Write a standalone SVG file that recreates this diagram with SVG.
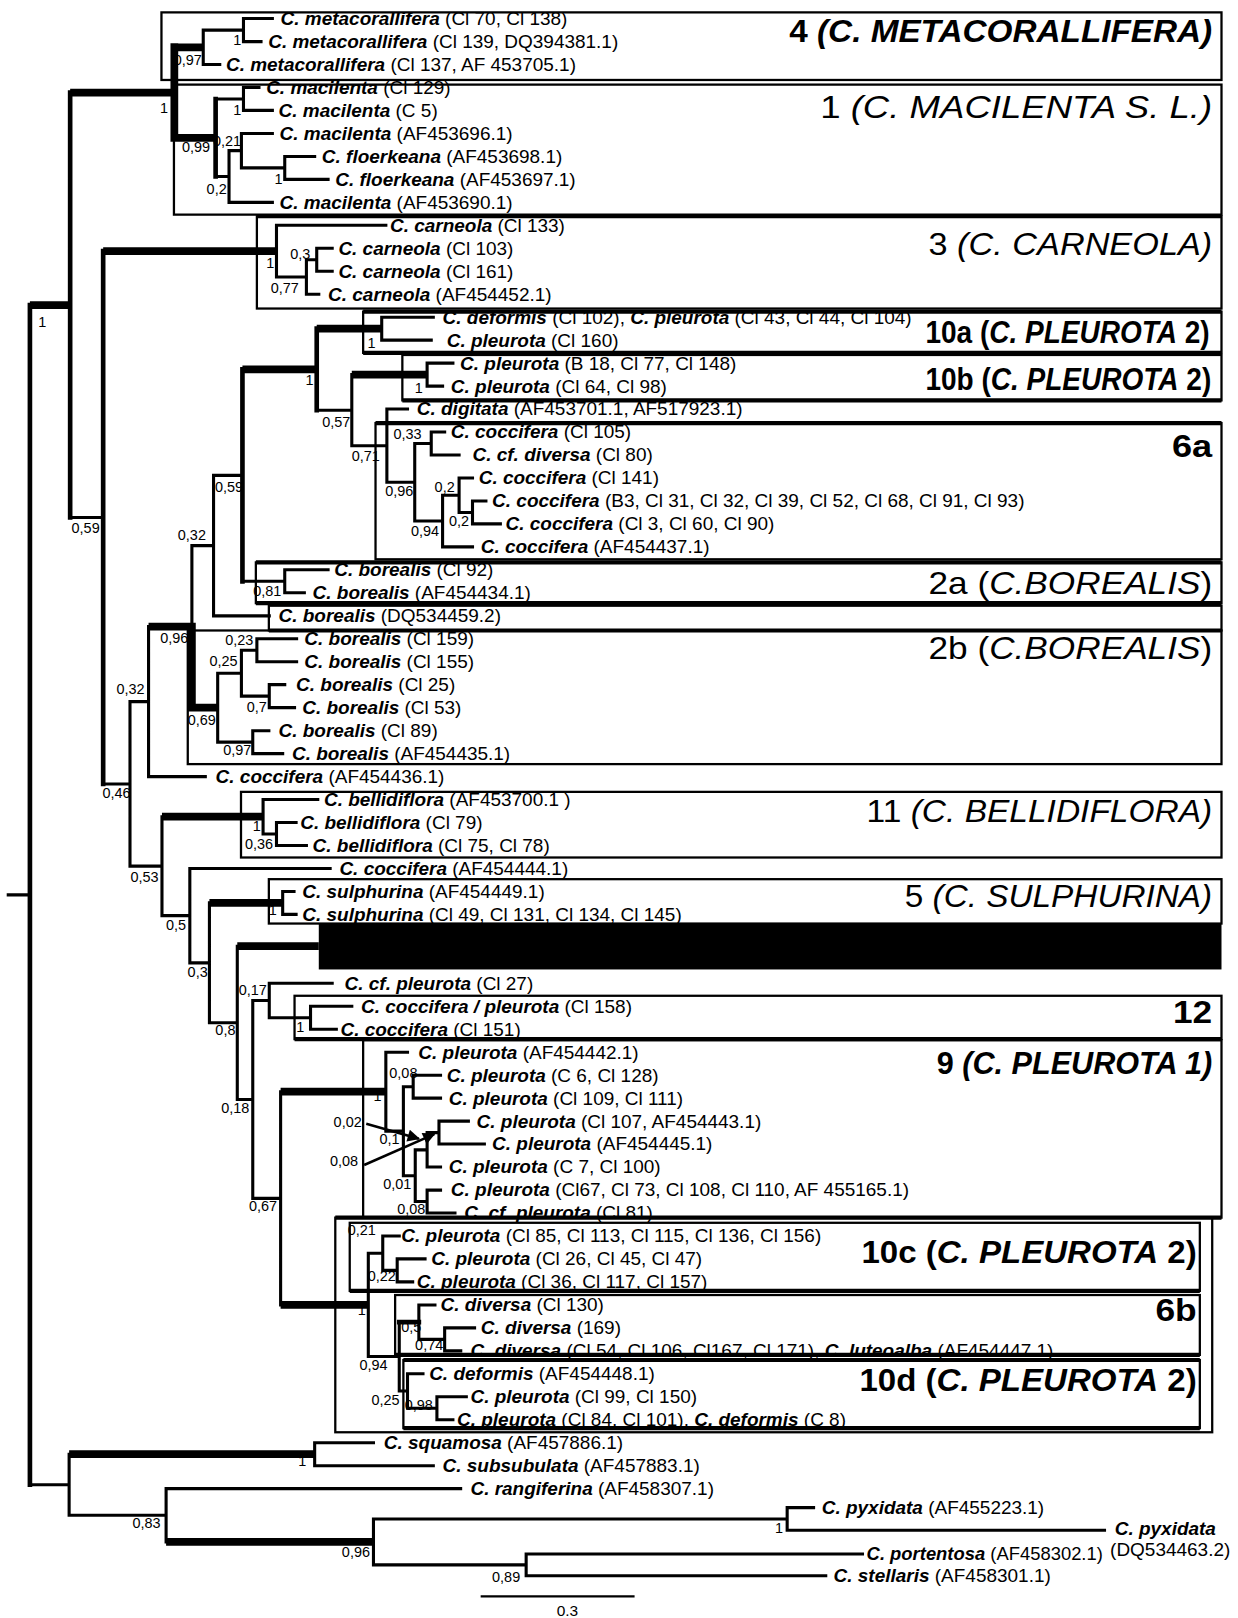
<svg xmlns="http://www.w3.org/2000/svg" width="1238" height="1618" viewBox="0 0 1238 1618">
<style>
.t{font-family:"Liberation Sans",Arial,Helvetica,sans-serif;font-size:18.4px;fill:#000}
.n{font-weight:bold;font-style:italic}
.s{font-family:"Liberation Sans",Arial,sans-serif;font-size:14px;text-anchor:middle;fill:#000}
.L{font-family:"Liberation Sans",Arial,sans-serif;font-size:30px;fill:#000}
.b{font-weight:bold}
.i{font-style:italic}
.br{fill:none;stroke:#000;stroke-width:3;stroke-linecap:square}
.mv{fill:none;stroke:#000;stroke-width:4.5;stroke-linecap:square}
.tk{fill:none;stroke:#000;stroke-width:7.5;stroke-linecap:butt}
.bx{fill:none;stroke:#000;stroke-width:2.2}
.be{fill:none;stroke:#000;stroke-width:4}
.ar{fill:none;stroke:#000;stroke-width:2.4}
</style>
<defs>
<marker id="ah2" viewBox="0 0 10 10" refX="9" refY="5" markerWidth="16" markerHeight="12" orient="auto" markerUnits="userSpaceOnUse">
<path d="M0 0 L10 5 L0 10 z" fill="#000"/>
</marker>
</defs>
<rect x="0" y="0" width="1238" height="1618" fill="#fff"/>
<g transform="scale(1.03167,1.03189)">

<g id="clade-boxes">
<g id="clade-4"><rect class="bx" x="156.5" y="12" width="1027.5" height="65.5"/>
<text class="L b" x="765" y="40.5" textLength="410" lengthAdjust="spacingAndGlyphs">4 <tspan class="i">(C. METACORALLIFERA)</tspan></text></g>
<g id="clade-1"><rect class="bx" x="168.6" y="82" width="1015.4" height="126"/>
<text class="L" x="795" y="114.5" textLength="380" lengthAdjust="spacingAndGlyphs">1 <tspan class="i">(C. MACILENTA S. L.)</tspan></text></g>
<g id="clade-3"><rect class="bx" x="249" y="209.6" width="935" height="89.4"/>
<text class="L" x="900" y="247.5" textLength="275" lengthAdjust="spacingAndGlyphs">3 <tspan class="i">(C. CARNEOLA)</tspan></text></g>
<g id="clade-10a"><rect class="bx" x="352" y="302" width="832" height="40"/>
<text class="L b" transform="translate(897,332.5) scale(0.905,1)" x="0" y="0">10a (<tspan class="i">C. PLEUROTA</tspan> 2)</text></g>
<g id="clade-10b"><rect class="bx" x="390" y="344" width="794" height="44"/>
<text class="L b" transform="translate(897,377.5) scale(0.905,1)" x="0" y="0">10b (<tspan class="i">C. PLEUROTA</tspan> 2)</text></g>
<g id="clade-6a"><rect class="bx" x="364" y="410" width="820" height="132"/>
<text class="L b" x="1136" y="442.5" textLength="39" lengthAdjust="spacingAndGlyphs">6a</text></g>
<g id="clade-2a"><rect class="bx" x="248" y="545" width="936" height="39.5"/>
<text class="L" x="900" y="575.5" textLength="275" lengthAdjust="spacingAndGlyphs">2a (<tspan class="i">C.BOREALIS</tspan>)</text></g>
<g id="clade-2-dq"><rect class="bx" x="260.6" y="587" width="923.4" height="24"/></g>
<g id="clade-2b"><rect class="bx" x="182" y="611" width="1002" height="129.5"/>
<text class="L" x="900" y="638.5" textLength="275" lengthAdjust="spacingAndGlyphs">2b (<tspan class="i">C.BOREALIS</tspan>)</text></g>
<g id="clade-11"><rect class="bx" x="233.6" y="767.4" width="950.4" height="63.6"/>
<text class="L" x="840" y="796.5" textLength="335" lengthAdjust="spacingAndGlyphs">11 <tspan class="i">(C. BELLIDIFLORA)</tspan></text></g>
<g id="clade-5"><rect class="bx" x="260.6" y="852" width="923.4" height="43"/>
<text class="L" x="877" y="878.5" textLength="298" lengthAdjust="spacingAndGlyphs">5 <tspan class="i">(C. SULPHURINA)</tspan></text></g>
<g id="black-bar"><rect x="309" y="895" width="875" height="44.5" fill="#000"/></g>
<g id="clade-12"><rect class="bx" x="285.5" y="965" width="898.5" height="42"/>
<text class="L b" x="1137" y="991.5" textLength="38" lengthAdjust="spacingAndGlyphs">12</text></g>
<g id="clade-9"><rect class="bx" x="352" y="1008" width="832" height="172"/>
<text class="L b" x="908" y="1040.5" textLength="267" lengthAdjust="spacingAndGlyphs">9 <tspan class="i">(C. PLEUROTA 1)</tspan></text></g>
<g id="clade-10-container"><rect class="bx" x="325" y="1180" width="850" height="208"/></g>
<g id="clade-10c"><rect class="bx" x="339" y="1185" width="824" height="66"/>
<text class="L b" x="835" y="1223.5" textLength="325" lengthAdjust="spacingAndGlyphs">10c (<tspan class="i">C. PLEUROTA</tspan> 2)</text></g>
<g id="clade-6b"><rect class="bx" x="383" y="1255" width="780" height="58"/>
<text class="L b" x="1120" y="1280.5" textLength="40" lengthAdjust="spacingAndGlyphs">6b</text></g>
<g id="clade-10d"><rect class="bx" x="391" y="1318" width="772" height="66"/>
<text class="L b" x="833" y="1348.5" textLength="327" lengthAdjust="spacingAndGlyphs">10d (<tspan class="i">C. PLEUROTA</tspan> 2)</text></g>
<path class="be" d="M249 209.6H1184M352 302H1184M352 342H1184M390 388H1184M364 410H1184M248 545H1184M248 584.5H1184M260.6 611H1184M285.5 1007H1184M325 1180H1184M339 1251H1163M383 1313H1163M391 1318H1163M391 1384H1163"/>
</g>

<g id="connectors">
<path class="br" d="M236 18V40.3M236 18H264M236 40.3H253
M197 29.15V62.5M197 29.15H236M197 62.5H213
M236 84.8V107M236 84.8H251M236 107H264
M276 151.6V173.8M276 151.6H305M276 173.8H318
M234 129.3V162.7M234 129.3H264M234 162.7H276
M222 146V196.1M222 146H234M222 196.1H264
M209 95.9H236M209 171.05H222
M307 240.6V262.9M307 240.6H322M307 262.9H322
M297 251.75V285.1M297 251.75H307M297 285.1H309
M268 218.3V268.4M268 218.3H374M268 268.4H297
M370 307.4V329.6M370 307.4H420M370 329.6H418
M414 351.9V374.2M414 351.9H439M414 374.2H429
M458 485.5V507.7M458 485.5H471M458 507.7H485
M445 463.2V496.6M445 463.2H458M445 496.6H458
M429 479.9V530M429 479.9H445M429 530H458
M418 418.7V440.9M418 418.7H431M418 440.9H445
M402 429.8V504.95M402 429.8H418M402 504.95H429
M375 396.4V467.4M375 396.4H395M375 467.4H402
M341 363.05V431.9M341 431.9H375
M307 397.5H341
M276 552.2V574.5M276 552.2H318M276 574.5H295
M235 563.35H276
M207 460.7V596.8M207 460.7H235M207 596.8H261
M249 619V641.3M249 619H287.5M249 641.3H287.5
M261 663.5V685.8M261 663.5H276M261 685.8H285.5
M234 630.15V674.65M234 630.15H249M234 674.65H261
M245 708.1V730.3M245 708.1H260.6M245 730.3H274
M211 652.4V719.2M211 652.4H234M211 719.2H245
M186 528.75V607.3M186 528.75H207
M144 607.3V752.6M144 752.6H199
M268 797.1V819.4M268 797.1H287M268 819.4H297
M255 774.8V808.25M255 774.8H308M255 808.25H268
M274 863.9V886.1M274 863.9H285M274 886.1H287
M301 975.2V997.4M301 975.2H341M301 997.4H326
M261 952.9V986.3M261 952.9H322M261 986.3H301
M400.5 1042V1064.2M400.5 1042H427M400.5 1064.2H427
M425.5 1086.5V1108.7M425.5 1086.5H454M425.5 1108.7H469.5
M414 1097.6V1131M414 1097.6H425.5M414 1131H427
M414 1153.3V1175.5M414 1153.3H427M414 1175.5H441
M402.5 1114.3V1164.4M402.5 1114.3H414M402.5 1164.4H414
M391 1053.1V1139.35M391 1053.1H400.5M391 1139.35H402.5
M374 1019.7V1096.2M374 1019.7H395M374 1096.2H391
M385 1220V1242.3M385 1220H412M385 1242.3H400
M371 1197.8V1231.15M371 1197.8H387M371 1231.15H385
M431 1286.8V1309.1M431 1286.8H460M431 1309.1H446.6
M406 1264.6V1297.95M406 1264.6H421.6M406 1297.95H431
M423.5 1353.6V1375.9M423.5 1353.6H452M423.5 1375.9H439
M395 1331.3V1364.75M395 1331.3H410M395 1364.75H423.5
M387 1281.3V1348M387 1348H395
M357 1214.5V1314.65M357 1214.5H371M357 1314.65H387
M272 1058V1264.6
M245 969.6V1161.3M245 969.6H261M245 1161.3H272
M230 917V1065.45M230 1065.45H245
M203 875V991.2M203 991.2H230
M184 841.6V933.1M184 841.6H320M184 933.1H203
M157 791.5V887.35M157 887.35H184
M126 679.95V839.4M126 679.95H144M126 839.4H157
M100 759.7H126
M68 501.5H100
M305 1398.1V1420.4M305 1398.1H362M305 1420.4H420
M763 1461V1483M763 1461H788.6M763 1483H1070.6
M510 1506V1527M510 1506H836M510 1527H800.4
M362 1472V1516.5M362 1472H763M362 1516.5H510
M161 1442.6V1494.25M161 1442.6H446.5
M67 1409.25V1468.4M67 1468.4H161
M29 1438.8H67
M8 867.2H29"/>
<path class="mv" d="M209 95.9V171.05M307 318.5V397.5M235 358V563.35M100 243.35V759.7M68 89.65V501.5M29 295.6V1438.8M387 1281.3H406"/>
<path class="tk" d="M169 42V137.3M166 45.8H197M166 133.5H209
M100 243.35H268
M307 318.5H370M341 363.05H414M235 358H307
M186 603.5V689.6M144 607.3H186M186 685.8H211
M157 791.5H255M203 875H274M230 917H309
M272 1058H374M272 1264.6H357
M68 89.65H169M29 295.6H68
M67 1409.25H305M161 1494.25H362"/>
<path class="ar" marker-end="url(#ah2)" d="M355 1089L406 1103.5"/>
<path class="ar" marker-end="url(#ah2)" d="M353 1129L421 1099"/>
<path class="br" style="stroke-width:2.2" d="M467 1547H614"/>
</g>

<g id="supports">
<text class="s" x="182" y="62.9">0,97</text>
<text class="s" x="230" y="43.9">1</text>
<text class="s" x="159" y="109.9">1</text>
<text class="s" x="190" y="146.9">0,99</text>
<text class="s" x="230" y="111.9">1</text>
<text class="s" x="220" y="141.9">0,21</text>
<text class="s" x="210" y="187.9">0,2</text>
<text class="s" x="270" y="177.9">1</text>
<text class="s" x="262" y="259.9">1</text>
<text class="s" x="291" y="250.9">0,3</text>
<text class="s" x="276" y="283.9">0,77</text>
<text class="s" x="41" y="316.9">1</text>
<text class="s" x="83" y="516.9">0,59</text>
<text class="s" x="360" y="336.9">1</text>
<text class="s" x="300" y="372.9">1</text>
<text class="s" x="406" y="380.9">1</text>
<text class="s" x="326" y="413.9">0,57</text>
<text class="s" x="354.5" y="446.9">0,71</text>
<text class="s" x="395" y="425.9">0,33</text>
<text class="s" x="387" y="480.9">0,96</text>
<text class="s" x="431" y="476.9">0,2</text>
<text class="s" x="445" y="509.9">0,2</text>
<text class="s" x="412" y="519.9">0,94</text>
<text class="s" x="222" y="476.9">0,59</text>
<text class="s" x="186" y="522.9">0,32</text>
<text class="s" x="259" y="577.9">0,81</text>
<text class="s" x="169" y="622.9">0,96</text>
<text class="s" x="232" y="624.9">0,23</text>
<text class="s" x="216.6" y="645.9">0,25</text>
<text class="s" x="126.5" y="672.9">0,32</text>
<text class="s" x="249" y="689.9">0,7</text>
<text class="s" x="195.5" y="702.9">0,69</text>
<text class="s" x="230" y="731.9">0,97</text>
<text class="s" x="113" y="773.5">0,46</text>
<text class="s" x="249" y="804.9">1</text>
<text class="s" x="251" y="822.9">0,36</text>
<text class="s" x="140" y="854.9">0,53</text>
<text class="s" x="170.6" y="900.9">0,5</text>
<text class="s" x="264.5" y="886.9">1</text>
<text class="s" x="191.6" y="946.5">0,3</text>
<text class="s" x="245" y="963.9">0,17</text>
<text class="s" x="291" y="999.9">1</text>
<text class="s" x="218.5" y="1002.9">0,8</text>
<text class="s" x="391" y="1044.9">0,08</text>
<text class="s" x="366" y="1066.9">1</text>
<text class="s" x="228" y="1078.9">0,18</text>
<text class="s" x="337" y="1091.9">0,02</text>
<text class="s" x="377.5" y="1108.9">0,1</text>
<text class="s" x="333.5" y="1129.9">0,08</text>
<text class="s" x="385" y="1151.9">0,01</text>
<text class="s" x="255" y="1173.9">0,67</text>
<text class="s" x="398.6" y="1176.5">0,08</text>
<text class="s" x="350.7" y="1196.9">0,21</text>
<text class="s" x="370" y="1241.9">0,22</text>
<text class="s" x="350.7" y="1273.9">1</text>
<text class="s" x="398.6" y="1290.9">0,5</text>
<text class="s" x="416" y="1308.6">0,74</text>
<text class="s" x="362" y="1327.9">0,94</text>
<text class="s" x="373.7" y="1361.9">0,25</text>
<text class="s" x="406" y="1366.9">0,98</text>
<text class="s" x="293" y="1420.9">1</text>
<text class="s" x="142" y="1480.9">0,83</text>
<text class="s" x="755" y="1485.9">1</text>
<text class="s" x="345" y="1508.9">0,96</text>
<text class="s" x="490.6" y="1532.9">0,89</text>
<text class="s" x="550" y="1566" style="font-size:15px">0.3</text>
</g>

<g id="leaves">
<g id="leaf-1"><text class="t" x="272" y="24.2"><tspan class="n">C. metacorallifera</tspan> (Cl 70, Cl 138)</text></g>
<g id="leaf-2"><text class="t" x="260" y="46.5"><tspan class="n">C. metacorallifera</tspan> (Cl 139, DQ394381.1)</text></g>
<g id="leaf-3"><text class="t" x="219" y="68.7"><tspan class="n">C. metacorallifera</tspan> (Cl 137, AF 453705.1)</text></g>
<g id="leaf-4"><text class="t" x="258" y="91"><tspan class="n">C. macilenta</tspan> (Cl 129)</text></g>
<g id="leaf-5"><text class="t" x="270" y="113.2"><tspan class="n">C. macilenta</tspan> (C 5)</text></g>
<g id="leaf-6"><text class="t" x="271" y="135.5"><tspan class="n">C. macilenta</tspan> (AF453696.1)</text></g>
<g id="leaf-7"><text class="t" x="312" y="157.8"><tspan class="n">C. floerkeana</tspan> (AF453698.1)</text></g>
<g id="leaf-8"><text class="t" x="325" y="180"><tspan class="n">C. floerkeana</tspan> (AF453697.1)</text></g>
<g id="leaf-9"><text class="t" x="271" y="202.3"><tspan class="n">C. macilenta</tspan> (AF453690.1)</text></g>
<g id="leaf-10"><text class="t" x="378" y="224.5"><tspan class="n">C. carneola</tspan> (Cl 133)</text></g>
<g id="leaf-11"><text class="t" x="328" y="246.8"><tspan class="n">C. carneola</tspan> (Cl 103)</text></g>
<g id="leaf-12"><text class="t" x="328" y="269.1"><tspan class="n">C. carneola</tspan> (Cl 161)</text></g>
<g id="leaf-13"><text class="t" x="318" y="291.3"><tspan class="n">C. carneola</tspan> (AF454452.1)</text></g>
<g id="leaf-14"><text class="t" x="429" y="313.6"><tspan class="n">C. deformis</tspan> (Cl 102), <tspan class="n">C. pleurota</tspan> (Cl 43, Cl 44, Cl 104)</text></g>
<g id="leaf-15"><text class="t" x="433" y="335.8"><tspan class="n">C. pleurota</tspan> (Cl 160)</text></g>
<g id="leaf-16"><text class="t" x="446" y="358.1"><tspan class="n">C. pleurota</tspan> (B 18, Cl 77, Cl 148)</text></g>
<g id="leaf-17"><text class="t" x="437" y="380.4"><tspan class="n">C. pleurota</tspan> (Cl 64, Cl 98)</text></g>
<g id="leaf-18"><text class="t" x="404" y="402.6"><tspan class="n">C. digitata</tspan> (AF453701.1, AF517923.1)</text></g>
<g id="leaf-19"><text class="t" x="437" y="424.9"><tspan class="n">C. coccifera</tspan> (Cl 105)</text></g>
<g id="leaf-20"><text class="t" x="458" y="447.1"><tspan class="n">C. cf. diversa</tspan> (Cl 80)</text></g>
<g id="leaf-21"><text class="t" x="464" y="469.4"><tspan class="n">C. coccifera</tspan> (Cl 141)</text></g>
<g id="leaf-22"><text class="t" x="477" y="491.7"><tspan class="n">C. coccifera</tspan> (B3, Cl 31, Cl 32, Cl 39, Cl 52, Cl 68, Cl 91, Cl 93)</text></g>
<g id="leaf-23"><text class="t" x="490" y="513.9"><tspan class="n">C. coccifera</tspan> (Cl 3, Cl 60, Cl 90)</text></g>
<g id="leaf-24"><text class="t" x="466" y="536.2"><tspan class="n">C. coccifera</tspan> (AF454437.1)</text></g>
<g id="leaf-25"><text class="t" x="324" y="558.4"><tspan class="n">C. borealis</tspan> (Cl 92)</text></g>
<g id="leaf-26"><text class="t" x="303" y="580.7"><tspan class="n">C. borealis</tspan> (AF454434.1)</text></g>
<g id="leaf-27"><text class="t" x="270" y="603"><tspan class="n">C. borealis</tspan> (DQ534459.2)</text></g>
<g id="leaf-28"><text class="t" x="295" y="625.2"><tspan class="n">C. borealis</tspan> (Cl 159)</text></g>
<g id="leaf-29"><text class="t" x="295" y="647.5"><tspan class="n">C. borealis</tspan> (Cl 155)</text></g>
<g id="leaf-30"><text class="t" x="287" y="669.7"><tspan class="n">C. borealis</tspan> (Cl 25)</text></g>
<g id="leaf-31"><text class="t" x="293" y="692"><tspan class="n">C. borealis</tspan> (Cl 53)</text></g>
<g id="leaf-32"><text class="t" x="270" y="714.3"><tspan class="n">C. borealis</tspan> (Cl 89)</text></g>
<g id="leaf-33"><text class="t" x="283" y="736.5"><tspan class="n">C. borealis</tspan> (AF454435.1)</text></g>
<g id="leaf-34"><text class="t" x="209" y="758.8"><tspan class="n">C. coccifera</tspan> (AF454436.1)</text></g>
<g id="leaf-35"><text class="t" x="314" y="781"><tspan class="n">C. bellidiflora</tspan> (AF453700.1 )</text></g>
<g id="leaf-36"><text class="t" x="291" y="803.3"><tspan class="n">C. bellidiflora</tspan> (Cl 79)</text></g>
<g id="leaf-37"><text class="t" x="303" y="825.6"><tspan class="n">C. bellidiflora</tspan> (Cl 75, Cl 78)</text></g>
<g id="leaf-38"><text class="t" x="329" y="847.8"><tspan class="n">C. coccifera</tspan> (AF454444.1)</text></g>
<g id="leaf-39"><text class="t" x="293" y="870.1"><tspan class="n">C. sulphurina</tspan> (AF454449.1)</text></g>
<g id="leaf-40"><text class="t" x="293" y="892.3"><tspan class="n">C. sulphurina</tspan> (Cl 49, Cl 131, Cl 134, Cl 145)</text></g>
<g id="leaf-41"><text class="t" x="334" y="959.1"><tspan class="n">C. cf. pleurota</tspan> (Cl 27)</text></g>
<g id="leaf-42"><text class="t" x="350" y="981.4"><tspan class="n">C. coccifera / pleurota</tspan> (Cl 158)</text></g>
<g id="leaf-43"><text class="t" x="330" y="1003.6"><tspan class="n">C. coccifera</tspan> (Cl 151)</text></g>
<g id="leaf-44"><text class="t" x="405.5" y="1025.9"><tspan class="n">C. pleurota</tspan> (AF454442.1)</text></g>
<g id="leaf-45"><text class="t" x="433" y="1048.2"><tspan class="n">C. pleurota</tspan> (C 6, Cl 128)</text></g>
<g id="leaf-46"><text class="t" x="435" y="1070.4"><tspan class="n">C. pleurota</tspan> (Cl 109, Cl 111)</text></g>
<g id="leaf-47"><text class="t" x="462" y="1092.7"><tspan class="n">C. pleurota</tspan> (Cl 107, AF454443.1)</text></g>
<g id="leaf-48"><text class="t" x="477" y="1114.9"><tspan class="n">C. pleurota</tspan> (AF454445.1)</text></g>
<g id="leaf-49"><text class="t" x="435" y="1137.2"><tspan class="n">C. pleurota</tspan> (C 7, Cl 100)</text></g>
<g id="leaf-50"><text class="t" x="437" y="1159.5"><tspan class="n">C. pleurota</tspan> (Cl67, Cl 73, Cl 108, Cl 110, AF 455165.1)</text></g>
<g id="leaf-51"><text class="t" x="450" y="1181.7"><tspan class="n">C. cf. pleurota</tspan> (Cl 81)</text></g>
<g id="leaf-52"><text class="t" x="389" y="1204"><tspan class="n">C. pleurota</tspan> (Cl 85, Cl 113, Cl 115, Cl 136, Cl 156)</text></g>
<g id="leaf-53"><text class="t" x="418" y="1226.2"><tspan class="n">C. pleurota</tspan> (Cl 26, Cl 45, Cl 47)</text></g>
<g id="leaf-54"><text class="t" x="404" y="1248.5"><tspan class="n">C. pleurota</tspan> (Cl 36, Cl 117, Cl 157)</text></g>
<g id="leaf-55"><text class="t" x="427" y="1270.8"><tspan class="n">C. diversa</tspan> (Cl 130)</text></g>
<g id="leaf-56"><text class="t" x="466" y="1293"><tspan class="n">C. diversa</tspan> (169)</text></g>
<g id="leaf-57"><text class="t" x="456" y="1315.3"><tspan class="n">C. diversa</tspan> (Cl 54, Cl 106, Cl167, Cl 171), <tspan class="n">C. luteoalba</tspan> (AF454447.1)</text></g>
<g id="leaf-58"><text class="t" x="416" y="1337.5"><tspan class="n">C. deformis</tspan> (AF454448.1)</text></g>
<g id="leaf-59"><text class="t" x="456" y="1359.8"><tspan class="n">C. pleurota</tspan> (Cl 99, Cl 150)</text></g>
<g id="leaf-60"><text class="t" x="443" y="1382.1"><tspan class="n">C. pleurota</tspan> (Cl 84, Cl 101), <tspan class="n">C. deformis</tspan> (C 8)</text></g>
<g id="leaf-61"><text class="t" x="372" y="1404.3"><tspan class="n">C. squamosa</tspan> (AF457886.1)</text></g>
<g id="leaf-62"><text class="t" x="429" y="1426.6"><tspan class="n">C. subsubulata</tspan> (AF457883.1)</text></g>
<g id="leaf-63"><text class="t" x="456" y="1448.8"><tspan class="n">C. rangiferina</tspan> (AF458307.1)</text></g>
<g id="leaf-64"><text class="t" x="796.5" y="1467.2"><tspan class="n">C. pyxidata</tspan> (AF455223.1)</text></g>
<g id="leaf-65"><text class="t" x="1080.5" y="1487.2"><tspan class="n">C. pyxidata</tspan></text><text class="t" x="1076" y="1508.2">(DQ534463.2)</text></g>
<g id="leaf-66"><text class="t" x="840" y="1512.2" textLength="229" lengthAdjust="spacingAndGlyphs"><tspan class="n">C. portentosa</tspan> (AF458302.1)</text></g>
<g id="leaf-67"><text class="t" x="808" y="1533.2"><tspan class="n">C. stellaris</tspan> (AF458301.1)</text></g>
</g>
</g>
</svg>
